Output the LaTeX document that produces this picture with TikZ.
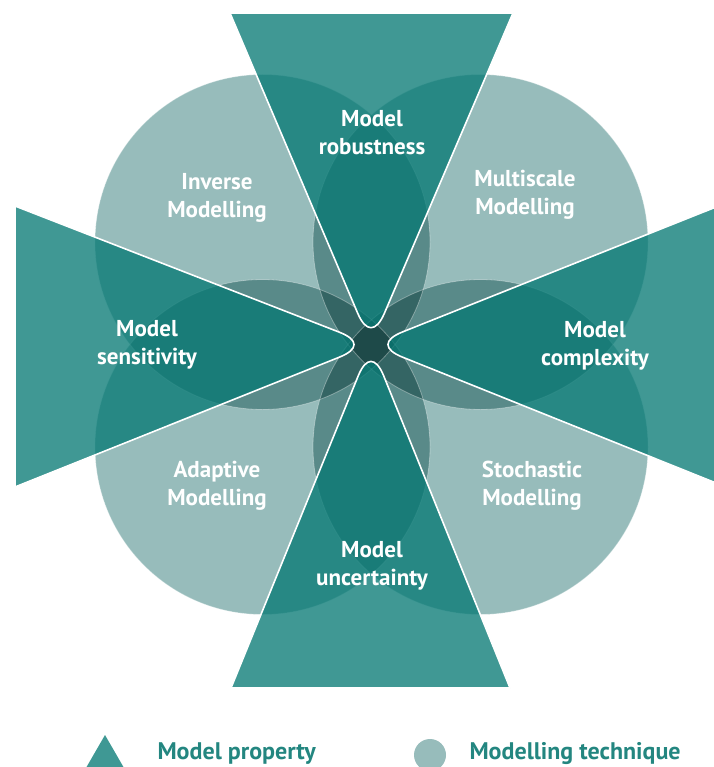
\documentclass[tikz,border=0pt]{standalone}
\usepackage{fontspec}
\setmainfont{PT Sans}
\usetikzlibrary{positioning, calc, shapes.geometric}

\definecolor{propCol}{RGB}{6,121,116}
\definecolor{keyText}{RGB}{35,134,128}
\definecolor{keyProp}{RGB}{63,152,148}
\definecolor{keyTech}{RGB}{151,188,187}

\begin{document}
\begin{tikzpicture}
[x=1pt, y=-1pt,
   techG/.style={shape=circle, inner sep=0pt, minimum size=335pt, fill=keyTech},
   techEdge/.style={draw=white, draw opacity=0.35, line width=0.8pt},
   propG/.style={fill=propCol, fill opacity=0.77, draw=white, line width=1.6pt, line join=round},
   txt/.style={text=white, font=\bfseries\fontsize{23}{28}\selectfont, align=center},
   legendtxt/.style={text=keyText, font=\bfseries\fontsize{24}{28}\selectfont, anchor=base west}]
\useasboundingbox (0,0) rectangle (713,767);
\coordinate (O) at (371,344.5);
% modelling techniques
\begin{scope}[blend mode=multiply]
\node[techG] (IMc) at (262.5,242) {};
\node[techG] (MMc) at (480.5,242) {};
\node[techG] (AMc) at (262.5,447) {};
\node[techG] (SMc) at (480.5,447) {};
\end{scope}
\draw[techEdge] (IMc.center) circle[radius=167.5pt];
\draw[techEdge] (MMc.center) circle[radius=167.5pt];
\draw[techEdge] (AMc.center) circle[radius=167.5pt];
\draw[techEdge] (SMc.center) circle[radius=167.5pt];
% model properties
\coordinate (T1) at (230,13);
\coordinate (T2) at (513,13);
\coordinate (R1) at (716,207);
\coordinate (R2) at (716,483);
\coordinate (B1) at (510,688);
\coordinate (B2) at (231,688);
\coordinate (L1) at (15,487);
\coordinate (L2) at (15,206);
\draw[propG] (T1) -- ($(O)!34pt!(T1)$) .. controls ($(O)!13pt!(T1)$) and ($(O)!13pt!(T2)$) .. ($(O)!34pt!(T2)$) -- (T2) -- cycle;
\draw[propG] (R1) -- ($(O)!34pt!(R1)$) .. controls ($(O)!13pt!(R1)$) and ($(O)!13pt!(R2)$) .. ($(O)!34pt!(R2)$) -- (R2) -- cycle;
\draw[propG] (B1) -- ($(O)!34pt!(B1)$) .. controls ($(O)!13pt!(B1)$) and ($(O)!13pt!(B2)$) .. ($(O)!34pt!(B2)$) -- (B2) -- cycle;
\draw[propG] (L1) -- ($(O)!34pt!(L1)$) .. controls ($(O)!13pt!(L1)$) and ($(O)!13pt!(L2)$) .. ($(O)!34pt!(L2)$) -- (L2) -- cycle;
% labels
\node[txt] (MR) at (372,133) {Model\\robustness};
\node[txt] (IM) at (217,198) {Inverse\\Modelling};
\node[txt] (MM) at (525,195) {Multiscale\\Modelling};
\node[txt] (MS) at (147,345) {Model\\sensitivity};
\node[txt] (MC) at (595,346) {Model\\complexity};
\node[txt] (AM) at (217,486) {Adaptive\\Modelling};
\node[txt] (SM) at (532,486) {Stochastic\\Modelling};
\node[txt] (MU) at (372,566) {Model\\uncertainty};
% legend
\node[regular polygon, regular polygon sides=3, minimum size=52pt, inner sep=0pt, fill=keyProp] (propKey) at (105,761) {};
\node[legendtxt] (legend1) at (154,759.5) {Model property};
\node[circle, minimum size=32pt, inner sep=0pt, fill=keyTech] (techKey) at (430,755) {};
\node[legendtxt] (legend2) at (466,759.5) {Modelling technique};
\end{tikzpicture}
\end{document}
